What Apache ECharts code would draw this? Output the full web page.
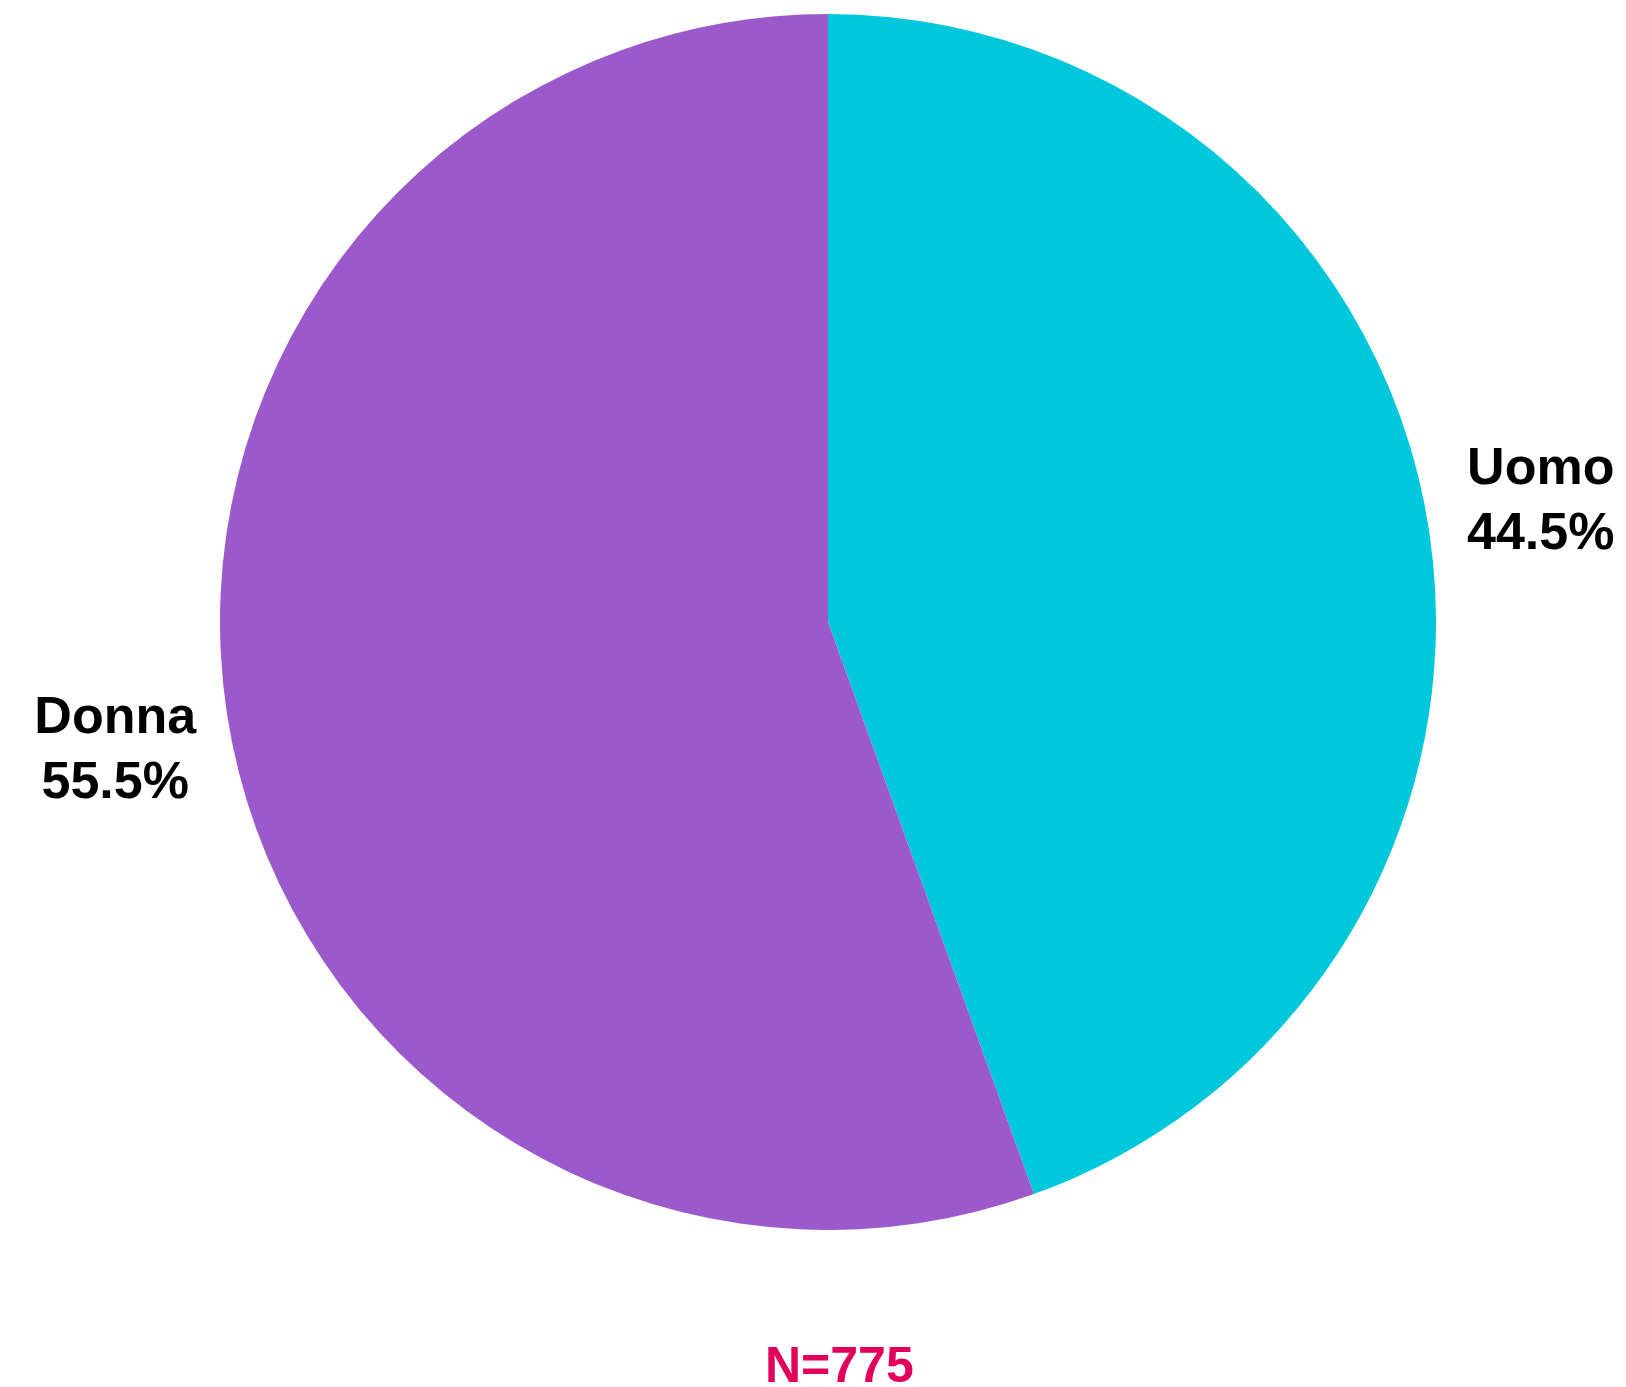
<!DOCTYPE html>
<html>
<head>
<meta charset="utf-8">
<script src="https://cdn.jsdelivr.net/npm/echarts@6/dist/echarts.min.js"></script>
<style>
  html, body { margin: 0; padding: 0; background: #ffffff; }
  #chart { width: 1626px; height: 1387px; }
</style>
</head>
<body>
<div id="chart"></div>
<script>
// Gender split of respondents
const categories = ['Uomo', 'Donna'];
const shares = [44.5, 55.5];
const colors = ['#00c8dc', '#9b59cb'];
const sampleLabel = 'N=775';

const center = [828, 622];
const radius = 608;
const labelRadiusFactor = 1.19;
const startAngle = 90;

const total = shares.reduce((a, b) => a + b, 0);

// Mid-angle of a slice, clockwise from startAngle, in degrees
function midAngleOf(index) {
  let before = 0;
  for (let i = 0; i < index; i++) before += shares[i];
  const mid = before + shares[index] / 2;
  return startAngle - (mid / total) * 360;
}

const chart = echarts.init(document.getElementById('chart'), null, { renderer: 'canvas' });

chart.setOption({
  backgroundColor: '#ffffff',
  animation: false,
  title: {
    text: sampleLabel,
    left: 760,
    bottom: -11,
    textStyle: {
      color: '#e2005c',
      fontFamily: 'Liberation Sans, Arial, sans-serif',
      fontSize: 50,
      fontWeight: 'bold'
    }
  },
  series: [{
    type: 'pie',
    center: center,
    radius: radius,
    startAngle: startAngle,
    clockwise: true,
    silent: true,
    data: categories.map((name, i) => ({
      name: name,
      value: shares[i],
      itemStyle: { color: colors[i] }
    })),
    itemStyle: { borderWidth: 0 },
    label: {
      show: true,
      position: 'inside',
      formatter: (p) => p.name + '\n' + p.value.toFixed(1) + '%',
      color: '#000000',
      fontFamily: 'Liberation Sans, Arial, sans-serif',
      fontSize: 52,
      fontWeight: 'bold',
      lineHeight: 65,
      align: 'center',
      overflow: 'none'
    },
    labelLine: { show: false },
    // Centre each label on its slice's mid-angle, a little outside the rim
    labelLayout: (params) => {
      const a = midAngleOf(params.dataIndex) * Math.PI / 180;
      const d = radius * labelRadiusFactor;
      return {
        x: center[0] + d * Math.cos(a),
        y: center[1] - d * Math.sin(a) + 5,
        align: 'center',
        verticalAlign: 'middle'
      };
    }
  }]
});
</script>
</body>
</html>
